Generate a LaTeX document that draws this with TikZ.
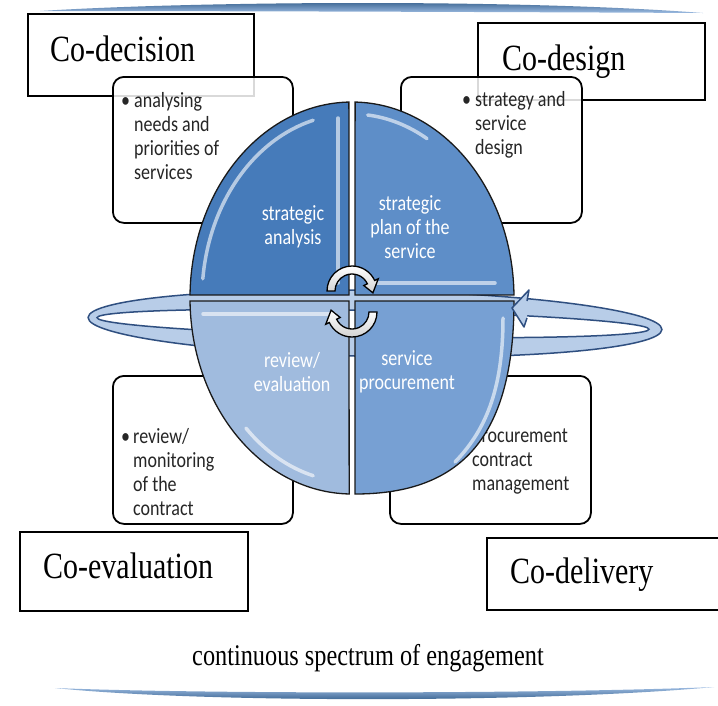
\documentclass[tikz,border=0pt]{standalone}
\usepackage{fontspec}
\newfontfamily\serifl[FakeStretch=0.81]{Liberation Serif}
\newfontfamily\sansl[FakeStretch=0.83]{Carlito}
\usetikzlibrary{calc}
\definecolor{qTL}{HTML}{467BBA}
\definecolor{qTR}{HTML}{5E8EC8}
\definecolor{qBL}{HTML}{A0BBDE}
\definecolor{qBR}{HTML}{77A0D3}
\definecolor{ringfill}{HTML}{B8CDE8}
\definecolor{ringline}{HTML}{2F4F80}
\definecolor{barDark}{HTML}{24507F}
\definecolor{barLight}{HTML}{9DBCE2}
\begin{document}
\begin{tikzpicture}[x=1pt,y=-1pt,
  cobox/.style={draw=black, line width=2.2pt, inner sep=0pt, anchor=north west},
  ibox/.style={draw=black, line width=1.8pt, rounded corners=11pt, fill=white, fill opacity=0.85, inner sep=0pt, anchor=north west},
  colabel/.style={font=\serifl\fontsize{37}{40}\selectfont, anchor=base west, inner sep=0pt},
  itemtxt/.style={font=\sansl\fontsize{21.7}{24}\selectfont, align=left, anchor=base west, inner sep=0pt, text=black!85},
  qtxt/.style={font=\sansl\fontsize{21.7}{24}\selectfont, align=center, text=white, inner sep=0pt},
  quad/.style={draw=black!90, line width=1.3pt},
  hl/.style={white, opacity=0.6, line width=3.5pt, line cap=round},
  carrow/.style={draw=black, line width=1.3pt, top color=white, bottom color=gray!35}]
\useasboundingbox (0,0) rectangle (718,705);
\clip (0,0) rectangle (718,705);
\fill[white] (0,0) rectangle (718,705);

% top and bottom bars
\shade[top color=barDark, bottom color=barLight] (40,11) .. controls (200,1) and (520,-1) .. (703,13) .. controls (520,12) and (200,11) .. (40,11) -- cycle;
\shade[top color=barLight, bottom color=barDark] (55,688) .. controls (200,694) and (540,694) .. (714,687) .. controls (540,703) and (200,703) .. (55,688) -- cycle;

% label boxes
\node[cobox, minimum width=226pt, minimum height=82pt] (bdec) at (27,13) {};
\node[cobox, minimum width=227pt, minimum height=77pt] (bdes) at (477,22) {};
\node[cobox, minimum width=228pt, minimum height=79pt] (beva) at (19,531) {};
\node[cobox, minimum width=240pt, minimum height=72pt] (bdel) at (486,537) {};

\node[colabel] (tdec) at (50,61) {Co-decision};
\node[colabel] (tdes) at (502,70) {Co-design};
\node[colabel] (teva) at (43,578) {Co-evaluation};
\node[colabel] (tdel) at (510,583) {Co-delivery};

% item boxes
\node[ibox, minimum width=180pt, minimum height=146pt] (ia) at (112,76) {};
\node[ibox, minimum width=181pt, minimum height=146pt] (ib) at (400,76) {};
\node[ibox, minimum width=180pt, minimum height=148pt] (ic) at (112,375) {};
\node[ibox, minimum width=201pt, minimum height=148pt] (id) at (389,375) {};

% (multi-line nodes: base anchor is the last line's baseline)
\node[itemtxt] (bula) at (121,107) {•};
\node[itemtxt] (ta) at (134,179) {analysing\\needs and\\priorities of\\services};
\node[itemtxt] (bulb) at (462,106) {•};
\node[itemtxt] (tb) at (475,154) {strategy and\\service\\design};
\node[itemtxt] (bulc) at (121,443) {•};
\node[itemtxt] (tc) at (133,515) {review/\\monitoring\\of the\\contract};
\node[itemtxt] (td) at (472,490) {procurement\\contract\\management};

% ring
\fill[ringfill, even odd rule, rotate around={-1.2:(375,323.5)}]
  (375,323.5) ellipse[x radius=287, y radius=33] (373,323.5) ellipse[x radius=276, y radius=13];
\draw[ringline, line width=1.5pt, rotate around={-1.2:(375,323.5)}]
  (375,323.5) ellipse[x radius=287, y radius=33] (373,323.5) ellipse[x radius=276, y radius=13];

% circle quadrants
\coordinate (O) at (352,298);
\filldraw[quad, fill=qTL] (O) ++(180.9:162 and 196) arc[start angle=180.9, end angle=268.9, x radius=162, y radius=196] -- (349,295) -- cycle;
\filldraw[quad, fill=qTR] (O) ++(271.1:162 and 196) arc[start angle=271.1, end angle=359.1, x radius=162, y radius=196] -- (355,295) -- cycle;
\filldraw[quad, fill=qBR] (355,301) -- (514,301) .. controls (514,436) and (462,494) .. (355,494) -- cycle;
\filldraw[quad, fill=qBL] (O) ++(91.0:162 and 196) arc[start angle=91.0, end angle=179.1, x radius=162, y radius=196] -- (349,301) -- cycle;

% highlights
\draw[hl] (O) ++(186:150 and 184) arc[start angle=186, end angle=255, x radius=150, y radius=184];
\draw[hl] (338,118) -- (338,283);
\draw[hl] (O) ++(276:150 and 184) arc[start angle=276, end angle=300, x radius=150, y radius=184];
\draw[hl] (372,283) -- (495,283);
\draw[hl] (203,314) -- (335,314);
\draw[hl] (O) ++(105:150 and 184) arc[start angle=105, end angle=135, x radius=150, y radius=184];
\draw[hl] (503,318) .. controls (503,385) and (488,428) .. (455,462);

% quadrant labels
\node[qtxt] (qa) at (293,227) {strategic\\analysis};
\node[qtxt] (qb) at (410,227) {strategic\\plan of the\\service};
\node[qtxt] (qc) at (292,372) {review/\\evaluation};
\node[qtxt] (qd) at (407,372) {service\\procurement};

% ring arrowhead
\filldraw[fill=ringfill, draw=ringline, line width=1.5pt, line join=round] (527,301) -- (529,290) -- (512,308) -- (524,327) -- (527,318);

% centre arrows
\coordinate (T) at (352,291);
\draw[carrow] (T) ++(180:25) arc[start angle=180, end angle=335, radius=25] -- ($(T)+(335:29)$) -- ($(T)+(5:21)$) -- ($(T)+(335:13)$) -- ($(T)+(335:17)$) arc[start angle=335, end angle=180, radius=17] -- cycle;
\coordinate (B) at (352,312);
\draw[carrow] (B) ++(0:25) arc[start angle=0, end angle=155, radius=25] -- ($(B)+(155:29)$) -- ($(B)+(185:21)$) -- ($(B)+(155:13)$) -- ($(B)+(155:17)$) arc[start angle=155, end angle=0, radius=17] -- cycle;

% bottom caption
\node[font=\serifl\fontsize{30}{32}\selectfont, anchor=base, inner sep=0pt] (spec) at (368,665) {continuous spectrum of engagement};
\end{tikzpicture}
\end{document}
